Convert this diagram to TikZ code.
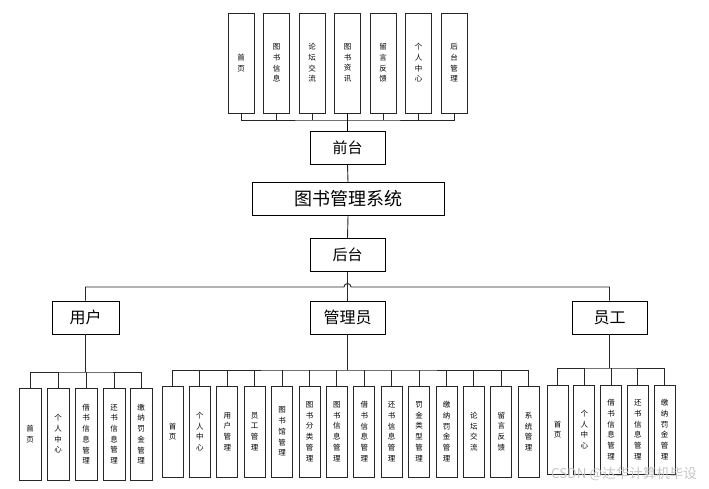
\documentclass[tikz,border=0pt]{standalone}
\usepackage{fontspec}
\setmainfont{Noto Sans CJK SC}
\usetikzlibrary{calc}
\begin{document}
\begin{tikzpicture}[x=1pt,y=-1pt]
\tikzset{
  lc/.style={draw=black!85, line width=0.9pt},
  vbox/.style={draw=black!85, line width=0.9pt, inner sep=0pt, align=center,
     font=\fontsize{7.5}{10.7}\selectfont},
  topbox/.style={vbox, minimum width=26pt, minimum height=100pt},
  ubox/.style={vbox, minimum width=22pt, minimum height=92pt},
  abox/.style={vbox, minimum width=21pt, minimum height=91pt},
  ebox/.style={vbox, minimum width=21pt, minimum height=89pt},
  hbox/.style={draw=black, line width=0.9pt, inner sep=0pt, minimum height=33pt},
}
\useasboundingbox (0,0) rectangle (709,488);
\fill[white] (0,0) rectangle (709,488);

% top row
\node[topbox] (t1) at (241,63) {首\\页};
\node[topbox] (t2) at (276.5,63) {图\\书\\信\\息};
\node[topbox] (t3) at (312,63) {论\\坛\\交\\流};
\node[topbox] (t4) at (347.5,63) {图\\书\\资\\讯};
\node[topbox] (t5) at (383,63) {留\\言\\反\\馈};
\node[topbox] (t6) at (418.5,63) {个\\人\\中\\心};
\node[topbox] (t7) at (454,63) {后\\台\\管\\理};

% middle
\node[hbox, minimum width=75pt, font=\fontsize{15}{15}\selectfont] (ft) at (347.5,148) {前台};
\node[hbox, minimum width=192pt, font=\fontsize{18}{18}\selectfont] (sys) at (348,199) {图书管理系统};
\node[hbox, minimum width=75pt, font=\fontsize{15}{15}\selectfont] (bt) at (347.5,255) {后台};

\node[hbox, minimum width=67pt, font=\fontsize{16}{16}\selectfont] (yh) at (85.5,317.5) {用户};
\node[hbox, minimum width=75pt, font=\fontsize{16}{16}\selectfont] (gly) at (347.5,317.5) {管理员};
\node[hbox, minimum width=75pt, font=\fontsize{16}{16}\selectfont] (yg) at (609.5,317.5) {员工};

% user children
\node[ubox] (u1) at (30,434) {首\\页};
\node[ubox] (u2) at (58,434) {个\\人\\中\\心};
\node[ubox] (u3) at (86,434) {借\\书\\信\\息\\管\\理};
\node[ubox] (u4) at (114,434) {还\\书\\信\\息\\管\\理};
\node[ubox] (u5) at (141,434) {缴\\纳\\罚\\金\\管\\理};

% admin children
\node[abox] (a1) at (172.5,431.5) {首\\页};
\node[abox] (a2) at (199.9,431.5) {个\\人\\中\\心};
\node[abox] (a3) at (227.3,431.5) {用\\户\\管\\理};
\node[abox] (a4) at (254.7,431.5) {员\\工\\管\\理};
\node[abox] (a5) at (282.1,431.5) {图\\书\\馆\\管\\理};
\node[abox] (a6) at (309.5,431.5) {图\\书\\分\\类\\管\\理};
\node[abox] (a7) at (336.9,431.5) {图\\书\\信\\息\\管\\理};
\node[abox] (a8) at (364.3,431.5) {借\\书\\信\\息\\管\\理};
\node[abox] (a9) at (391.7,431.5) {还\\书\\信\\息\\管\\理};
\node[abox] (a10) at (419.1,431.5) {罚\\金\\类\\型\\管\\理};
\node[abox] (a11) at (446.5,431.5) {缴\\纳\\罚\\金\\管\\理};
\node[abox] (a12) at (473.9,431.5) {论\\坛\\交\\流};
\node[abox] (a13) at (501.3,431.5) {留\\言\\反\\馈};
\node[abox] (a14) at (528.7,431.5) {系\\统\\管\\理};

% employee children
\node[ebox] (e1) at (557.5,429.5) {首\\页};
\node[ebox] (e2) at (584.25,429.5) {个\\人\\中\\心};
\node[ebox] (e3) at (611,429.5) {借\\书\\信\\息\\管\\理};
\node[ebox] (e4) at (637.75,429.5) {还\\书\\信\\息\\管\\理};
\node[ebox] (e5) at (664.5,429.5) {缴\\纳\\罚\\金\\管\\理};

% connectors: top
\coordinate (tb) at (347.5,120);
\draw[lc] (t1.south) |- (tb) -| (t7.south);
\foreach \i in {2,3,5,6} \draw[lc] (t\i.south) -- (t\i.south |- tb);
\draw[draw=black, line width=1.6pt] (t4.south) -- (ft.north);
\draw[lc] (ft.south) -- (sys.north);
\draw[lc] (sys.south) -- (bt.north);

% second level with line jump
\coordinate (jb) at (347.5,287);
\draw[lc] (bt.south) -- (gly.north);
\draw[lc] (yh.north) |- ($(jb)+(-3.5,0)$) arc (180:360:3.5) -| (yg.north);

% user bus
\coordinate (ub) at (85.5,372);
\draw[lc] (yh.south) -- (ub);
\draw[lc] (u1.north) |- (ub) -| (u5.north);
\foreach \i in {2,3,4} \draw[lc] (u\i.north) -- (u\i.north |- ub);

% admin bus
\coordinate (ab) at (347.5,370);
\draw[lc] (gly.south) -- (ab);
\draw[lc] (a1.north) |- (ab) -| (a14.north);
\foreach \i in {2,...,13} \draw[lc] (a\i.north) -- (a\i.north |- ab);

% employee bus
\coordinate (eb) at (609.5,368);
\draw[lc] (yg.south) -- (eb);
\draw[lc] (e1.north) |- (eb) -| (e5.north);
\foreach \i in {2,3,4} \draw[lc] (e\i.north) -- (e\i.north |- eb);

% watermark
\node[anchor=east, text=black!22, font=\fontsize{13.5}{13.5}\selectfont, inner sep=0pt] (wm) at (697,474) {CSDN @达华计算机毕设};
\end{tikzpicture}
\end{document}
